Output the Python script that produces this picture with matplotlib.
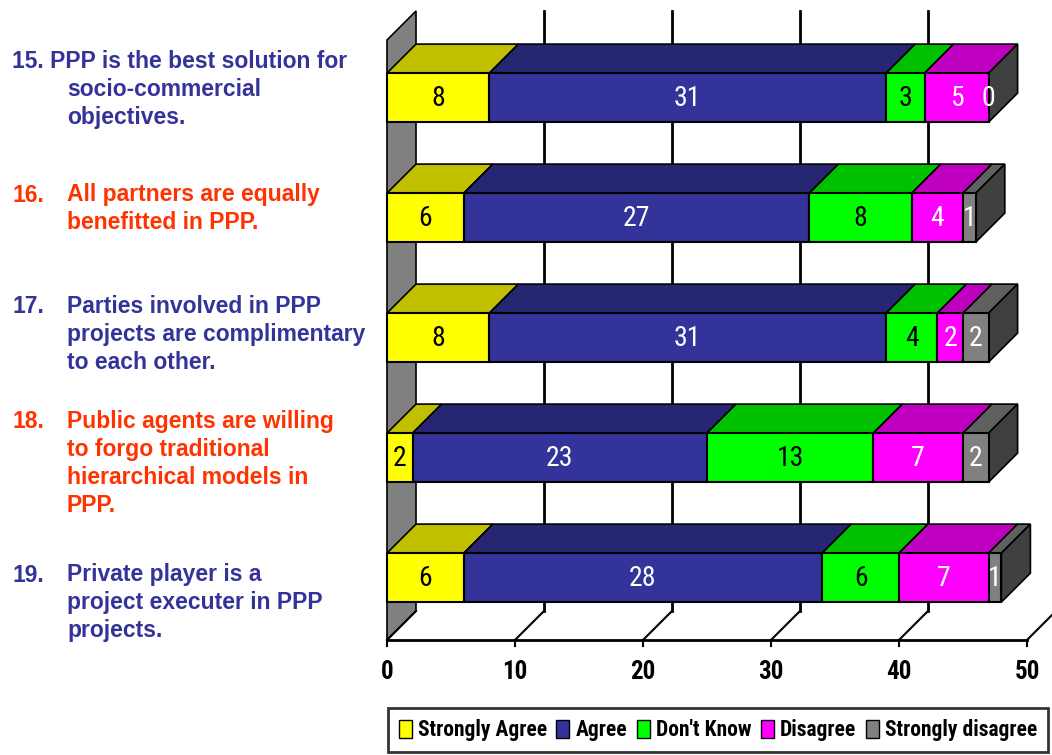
import matplotlib
matplotlib.use("Agg")
import matplotlib.pyplot as plt
from matplotlib.patches import Polygon, Patch

# ---- data ----
questions = ["15", "16", "17", "18", "19"]
responses = ["Strongly Agree", "Agree", "Don't Know", "Disagree", "Strongly disagree"]
strongly_agree = [8, 6, 8, 2, 6]
agree = [31, 27, 31, 23, 28]
dont_know = [3, 8, 4, 13, 6]
disagree = [5, 4, 2, 7, 7]
strongly_disagree = [0, 1, 2, 2, 1]
x_ticks = [0, 10, 20, 30, 40, 50]

question_text = [
    ["15. PPP is the best solution for", "socio-commercial", "objectives."],
    ["All partners are equally", "benefitted in PPP."],
    ["Parties involved in PPP", "projects are complimentary", "to each other."],
    ["Public agents are willing", "to forgo traditional", "hierarchical models in", "PPP."],
    ["Private player is a", "project executer in PPP", "projects."],
]

# ---- style ----
front_cols = ["#FFFF00", "#333399", "#00FF00", "#FF00FF", "#808080"]
top_cols = ["#C0C000", "#262673", "#00C000", "#C000C0", "#606060"]
side_col = "#404040"
num_cols = ["black", "white", "black", "white", "white"]
q_cols = ["#333399", "#FF3300", "#333399", "#FF3300", "#333399"]
NARROW = ["Roboto Condensed", "DejaVu Sans"]
BOLD = ["Liberation Sans", "DejaVu Sans"]

W, H = 1052, 755
fig = plt.figure(figsize=(W / 100, H / 100), dpi=100)
fig.patch.set_facecolor("white")

y_lo, y_hi = -0.48, 4.52
ax = fig.add_axes([387 / W, (H - 640) / H, 640 / W, 600 / H])
ax.set_xlim(0, 50)
ax.set_ylim(y_hi, y_lo)
ax.axis("off")

DX = 29 / 12.8          # depth offset in value units
DY = 29 / 120.0         # depth offset in category units
bh = 49 / 120.0         # bar thickness

# left wall
wall = Polygon([(0, y_lo), (DX, y_lo - DY), (DX, y_hi - DY), (0, y_hi)],
               closed=True, facecolor="#808080", edgecolor="black", lw=1.2,
               zorder=1, clip_on=False)
ax.add_patch(wall)

# back-wall gridlines and floor
for v in x_ticks:
    if v > 0:
        ax.plot([v + DX, v + DX], [y_lo - DY, y_hi - DY], color="black",
                lw=2, zorder=1, clip_on=False)
    ax.plot([v, v + DX], [y_hi, y_hi - DY], color="black", lw=1.5,
            zorder=1, clip_on=False)
    ax.plot([v, v], [y_hi, y_hi + 0.05], color="black", lw=1.5,
            zorder=1, clip_on=False)
    ax.text(v, y_hi + 0.27, str(v), ha="center", va="center",
            fontsize=18, fontweight="bold", family=NARROW, clip_on=False)
ax.plot([0, 50], [y_hi, y_hi], color="black", lw=2, zorder=1, clip_on=False)

series = [strongly_agree, agree, dont_know, disagree, strongly_disagree]
for i in range(len(questions)):
    left = 0.0
    ytop = i - bh / 2
    for j, s in enumerate(series):
        v = s[i]
        if v > 0:
            top = Polygon([(left, ytop), (left + v, ytop),
                           (left + v + DX, ytop - DY), (left + DX, ytop - DY)],
                          closed=True, facecolor=top_cols[j], edgecolor="black",
                          lw=1.2, zorder=3, clip_on=False)
            ax.add_patch(top)
            ax.barh(i, v, left=left, height=bh, color=front_cols[j],
                    edgecolor="black", lw=1.5, zorder=4, clip_on=False)
        ax.text(left + v / 2, i + 0.01, str(v), ha="center", va="center",
                color=num_cols[j], fontsize=20, family=NARROW, zorder=6)
        left += v
    side = Polygon([(left, ytop), (left + DX, ytop - DY),
                    (left + DX, ytop + bh - DY), (left, ytop + bh)],
                   closed=True, facecolor=side_col, edgecolor="black",
                   lw=1.2, zorder=3, clip_on=False)
    ax.add_patch(side)

# question labels on the left
line_h = 27.7
starts = [62, 195, 307, 422, 575]
for k, lines in enumerate(question_text):
    y0 = starts[k]
    if k > 0:
        fig.text(12 / W, 1 - y0 / H, questions[k] + ".", ha="left", va="center",
                 color=q_cols[k], fontsize=16.5, fontweight="bold", family=BOLD)
    for n, txt in enumerate(lines):
        x = 12 if (k == 0 and n == 0) else 67
        fig.text(x / W, 1 - (y0 + n * line_h) / H, txt, ha="left", va="center",
                 color=q_cols[k], fontsize=16.5, fontweight="bold", family=BOLD)

handles = [Patch(facecolor=c, edgecolor="black", lw=1) for c in front_cols]
leg = fig.legend(handles, responses, loc="lower left", mode="expand",
                 bbox_to_anchor=(388 / W, 3 / H, 660 / W, 45 / H), ncol=5,
                 frameon=True, fancybox=False, edgecolor="black",
                 handlelength=0.6, handleheight=0.9, handletextpad=0.3,
                 columnspacing=0.5, borderpad=0.5, borderaxespad=0,
                 prop={"family": NARROW, "weight": "bold", "size": 15.5})
leg.get_frame().set_linewidth(2)

fig.savefig("out.png", dpi=100, facecolor="white")
